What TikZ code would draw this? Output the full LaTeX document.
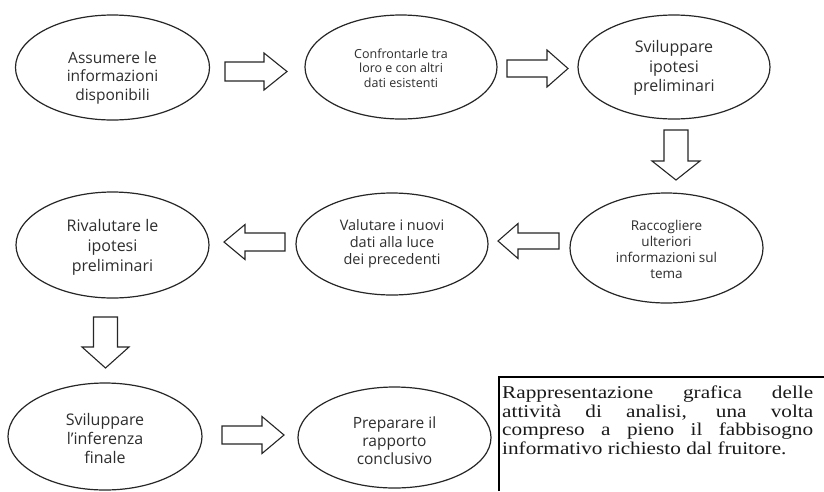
\documentclass[tikz,border=0pt]{standalone}
\usepackage{fontspec}
\setmainfont{Liberation Serif}
\newfontfamily\ovalfont{Open Sans}
\newfontfamily\capfont[FakeStretch=1.18]{Liberation Serif}
\usetikzlibrary{shapes.geometric}
\newcommand\blockarrow[8]{%
  \begin{scope}[shift={(#2,#3)},rotate=#4]
    \coordinate (#1) at (0,0);
    \draw[blk] ({-#5/2},{-#6/2}) -- ({#5/2-#8},{-#6/2}) -- ({#5/2-#8},{-#7/2})
      -- ({#5/2},0) -- ({#5/2-#8},{#7/2}) -- ({#5/2-#8},{#6/2}) -- ({-#5/2},{#6/2}) -- cycle;
  \end{scope}}
\begin{document}
\begin{tikzpicture}[x=1pt,y=1pt,
  oval/.style={ellipse, draw=black!85, line width=1.2pt, inner sep=0pt},
  lab/.style 2 args={font=\ovalfont\fontsize{#1}{#2}\selectfont, align=center, text=black!82, inner sep=0pt},
  blk/.style={draw=black!85, line width=1.1pt, fill=white, line join=miter}]
\fill[white] (0,0) rectangle (824,-491);
\useasboundingbox (0,0) rectangle (824,-491);

% ellipses
\node[oval, minimum width=194pt, minimum height=105pt] (e1) at (112.5,-67.5) {};
\node[oval, minimum width=192pt, minimum height=104pt] (e2) at (401,-67) {};
\node[oval, minimum width=192pt, minimum height=104pt] (e3) at (674,-67) {};
\node[oval, minimum width=193pt, minimum height=110pt] (e4) at (666.5,-248) {};
\node[oval, minimum width=192pt, minimum height=102pt] (e5) at (392,-244) {};
\node[oval, minimum width=193pt, minimum height=106pt] (e6) at (112.5,-245) {};
\node[oval, minimum width=194pt, minimum height=107pt] (e7) at (105,-436.5) {};
\node[oval, minimum width=193pt, minimum height=101pt] (e8) at (394.5,-437.5) {};

% texts
\node[lab={15.5}{18.5}] (t1) at ([yshift=-10pt]e1.center) {Assumere le\\informazioni\\disponibili};
\node[lab={12.5}{14.5}] (t2) at ([yshift=-1pt]e2.center) {Confrontarle tra\\loro e con altri\\dati esistenti};
\node[lab={16}{19.5}] (t3) at ([yshift=-1pt]e3.center) {Sviluppare\\ipotesi\\preliminari};
\node[lab={13.5}{16}] (t4) at ([yshift=-1pt]e4.center) {Raccogliere\\ulteriori\\informazioni sul\\tema};
\node[lab={14.5}{17}] (t5) at (e5.center) {Valutare i nuovi\\dati alla luce\\dei precedenti};
\node[lab={16}{20}] (t6) at ([yshift=-2pt]e6.center) {Rivalutare le\\ipotesi\\preliminari};
\node[lab={16}{19}] (t7) at ([yshift=-1.5pt]e7.center) {Sviluppare\\l’inferenza\\finale};
\node[lab={15.5}{18}] (t8) at ([yshift=-3pt]e8.center) {Preparare il\\rapporto\\conclusivo};

% block arrows (name, x, y, rotation, length, shaft, head width, head length)
\blockarrow{a1}{256}{-71.5}{0}{62}{19}{37}{23}
\blockarrow{a2}{537.5}{-68.5}{0}{61}{17}{37}{21}
\blockarrow{a3}{676}{-155}{-90}{50}{24}{48}{19}
\blockarrow{a4}{528.5}{-241}{180}{61}{16}{35}{20}
\blockarrow{a5}{254.5}{-242}{180}{61}{18}{35}{21}
\blockarrow{a6}{105.5}{-342.5}{-90}{51}{24}{47}{21}
\blockarrow{a7}{253}{-435}{0}{62}{18}{37}{22}

% caption box
\draw[line width=1.5pt] (499,-491) -- (499,-377) -- (825,-377);
\node[anchor=north west, inner sep=0pt, align=left, text=black!90,
  font=\capfont\fontsize{18}{18.4}\selectfont] (cap) at (502,-386)
  {\makebox[311pt][s]{Rappresentazione grafica delle}\\
   \makebox[311pt][s]{attività di analisi, una volta}\\
   \makebox[311pt][s]{compreso a pieno il fabbisogno}\\
   informativo richiesto dal fruitore.};
\end{tikzpicture}
\end{document}
